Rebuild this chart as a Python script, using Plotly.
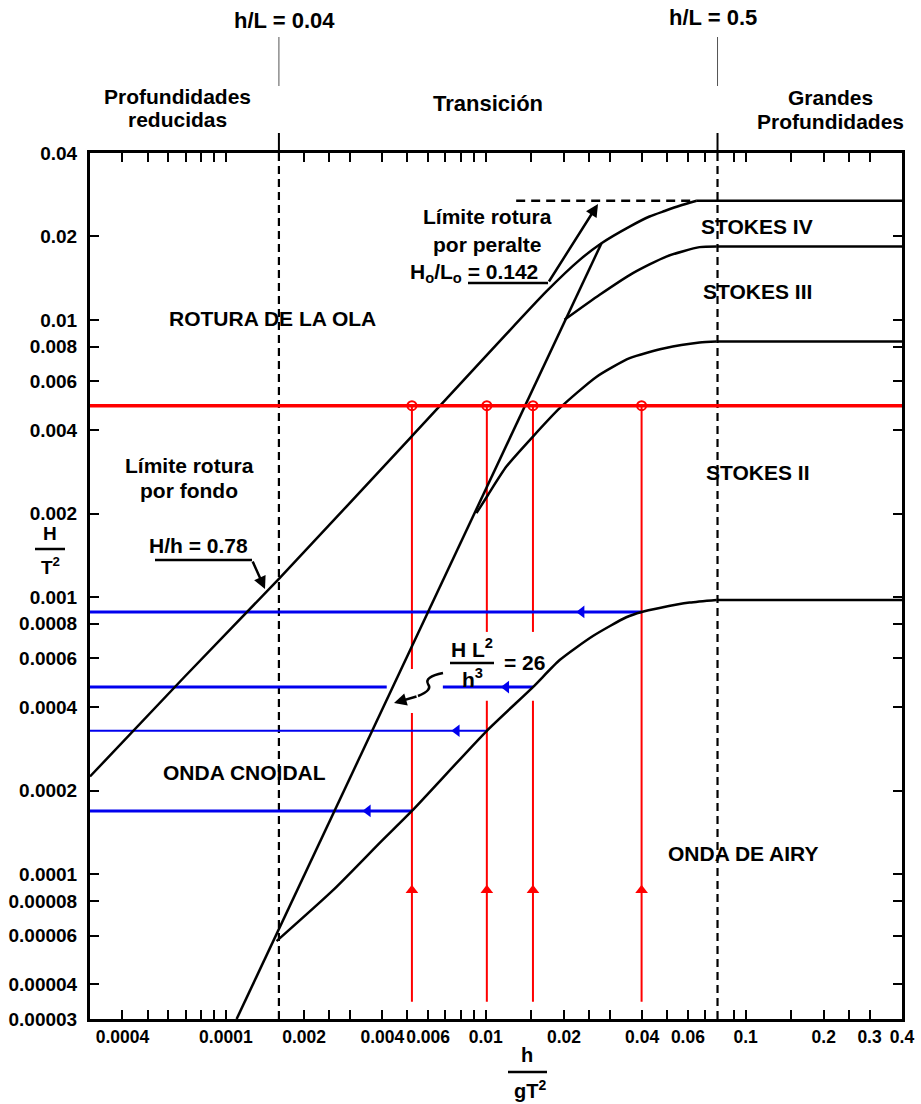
import math
import plotly.graph_objects as go

# ---------------- data ----------------
# Ursell limit  H L^2 / h^3 = 26
x_ursell = [0.0011, 0.0279]
y_ursell = [0.00003, 0.0189]

# breaking limit (H/h = 0.78 -> steepness limit), curved part then flat part
x_break = [0.0003, 0.000685, 0.00161, 0.00518, 0.01712, 0.0230, 0.0279, 0.0358,
           0.0427, 0.0488, 0.0558, 0.0648]
y_break = [0.000225, 0.000509, 0.00117, 0.00379, 0.01266, 0.01646, 0.0189, 0.0217,
           0.0236, 0.0247, 0.0258, 0.0269]
x_break_flat = [0.0648, 0.4]
y_break_flat = [0.0269, 0.0269]

# dashed steepness limit Ho/Lo = 0.142
x_peralte = [0.0131, 0.0648]
y_peralte = [0.0269, 0.0269]

# Stokes III / IV boundary
x_stokes34 = [0.0201, 0.02745, 0.03685, 0.04955, 0.06653, 0.0774]
y_stokes34 = [0.0100, 0.01231, 0.01474, 0.01692, 0.0183, 0.0184]
x_stokes34_flat = [0.0774, 0.4]
y_stokes34_flat = [0.0184, 0.0184]

# Stokes II / III boundary
x_stokes23 = [0.00921, 0.0102, 0.01201, 0.0152, 0.01926, 0.02665, 0.0358,
              0.0488, 0.06653, 0.0774]
y_stokes23 = [0.002006, 0.002334, 0.002954, 0.003791, 0.004799, 0.006223,
              0.007274, 0.007902, 0.008279, 0.00835]
x_stokes23_flat = [0.0774, 0.4]
y_stokes23_flat = [0.00835, 0.00835]

# Airy / Stokes II boundary
x_airy = [0.001567, 0.002586, 0.003971, 0.0052, 0.0101, 0.0152, 0.01926,
          0.02586, 0.03476, 0.0398, 0.04668, 0.06089, 0.0774]
y_airy = [0.0000573, 0.0000875, 0.0001315, 0.000169, 0.000329, 0.000473,
          0.000592, 0.000723, 0.000845, 0.000883, 0.000913, 0.000955, 0.000976]
x_airy_flat = [0.0774, 0.4]
y_airy_flat = [0.000976, 0.000976]

# depth limits h/L
hl_x = [0.0016, 0.078]
hl_labels = ["h/L = 0.04", "h/L = 0.5"]

# red example: H/T^2 level and h/gT^2 values
red_level = 0.0049
red_x = [0.0052, 0.0101, 0.0152, 0.0398]
red_bottom = 0.0000346
red_arrow_y = 0.0000875
red_gaps = [(0.000381, 0.00055), (0.000422, 0.000748), (0.000422, 0.000748), None]

# blue read-off levels
blue_y = [0.000169, 0.000329, 0.000473, 0.000883]
blue_end_x = [0.0052, 0.0101, 0.0152, 0.0398]
blue_arrow_x = [0.00352, 0.00774, 0.0120, 0.0234]
blue_gaps = [None, None, (0.00416, 0.00684), None]
blue_widths = [3, 2, 3, 3]

# axes
x_min, x_max = 0.0003, 0.4
y_min, y_max = 0.00003, 0.04
x_tickvals = [0.0004, 0.0005, 0.0006, 0.0007, 0.0008, 0.0009, 0.001, 0.002, 0.0025,
              0.003, 0.004, 0.005, 0.006, 0.007, 0.008, 0.009, 0.01, 0.015, 0.02,
              0.025, 0.03, 0.04, 0.05, 0.06, 0.07, 0.09, 0.1, 0.15, 0.2, 0.25, 0.3, 0.4]
x_labels = {0.0004: "0.0004", 0.001: "0.0001", 0.002: "0.002", 0.004: "0.004",
            0.006: "0.006", 0.01: "0.01", 0.02: "0.02", 0.04: "0.04", 0.06: "0.06",
            0.1: "0.1", 0.2: "0.2", 0.3: "0.3", 0.4: "0.4"}
y_tickvals = [0.00003, 0.00004, 0.00006, 0.00008, 0.0001, 0.0002, 0.0004, 0.0006,
              0.0008, 0.001, 0.002, 0.004, 0.006, 0.008, 0.01, 0.02, 0.04]
y_ticktext = ["0.00003", "0.00004", "0.00006", "0.00008", "0.0001", "0.0002", "0.0004",
              "0.0006", "0.0008", "0.001", "0.002", "0.004", "0.006", "0.008", "0.01",
              "0.02", "0.04"]

# ---------------- figure ----------------
W, H = 921, 1104
PL, PR, PT, PB = 90, 902, 153, 1019      # plot area in page pixels
ML, MR, MT, MB = PL, W - PR, PT, H - PB
PW, PH = PR - PL, PB - PT
FONT = "Liberation Sans, Arial, sans-serif"


def px(xp):
    return (xp - PL) / PW


def py(yp):
    return (PB - yp) / PH


fig = go.Figure()


def add_line(xs, ys, color="black", width=2.5, dash=None, spline=False):
    line = dict(color=color, width=width, dash=dash)
    if spline:
        line.update(shape="spline", smoothing=0.6)
    fig.add_trace(go.Scatter(x=xs, y=ys, mode="lines", line=line,
                             hoverinfo="skip", showlegend=False))


# vertical h/L limits
for xv in hl_x:
    add_line([xv, xv], [y_min, y_max], width=2.2, dash="8px,5px")

# red example lines
rx, ry = [], []
for xv, gap in zip(red_x, red_gaps):
    if gap:
        rx += [xv, xv, None, xv, xv, None]
        ry += [red_bottom, gap[0], None, gap[1], red_level, None]
    else:
        rx += [xv, xv, None]
        ry += [red_bottom, red_level, None]
add_line(rx, ry, color="#ff0000", width=2)

# blue read-off lines
for yv, xe, gap, w in zip(blue_y, blue_end_x, blue_gaps, blue_widths):
    if gap:
        add_line([x_min, gap[0], None, gap[1], xe], [yv, yv, None, yv, yv], color="#0000ee", width=w)
    else:
        add_line([x_min, xe], [yv, yv], color="#0000ee", width=w)

# regime curves
add_line(x_ursell, y_ursell)
add_line(x_break, y_break, spline=True)
add_line(x_break_flat, y_break_flat)
add_line(x_peralte, y_peralte, dash="9px,6px")
add_line(x_stokes34, y_stokes34, spline=True)
add_line(x_stokes34_flat, y_stokes34_flat)
add_line(x_stokes23, y_stokes23, spline=True)
add_line(x_stokes23_flat, y_stokes23_flat)
add_line(x_airy, y_airy, spline=True)
add_line(x_airy_flat, y_airy_flat)

# red horizontal level
add_line([x_min, x_max], [red_level, red_level], color="#ff0000", width=3.5)

# arrow heads and circles
fig.add_trace(go.Scatter(x=blue_arrow_x, y=blue_y, mode="markers",
                         marker=dict(symbol="triangle-left", size=11, color="#0000ee"),
                         hoverinfo="skip", showlegend=False))
fig.add_trace(go.Scatter(x=red_x, y=[red_arrow_y] * len(red_x), mode="markers",
                         marker=dict(symbol="triangle-up", size=11, color="#ff0000"),
                         hoverinfo="skip", showlegend=False))
fig.add_trace(go.Scatter(x=red_x, y=[red_level] * len(red_x), mode="markers",
                         marker=dict(symbol="circle-open", size=9, color="#ff0000",
                                     line=dict(width=2, color="#ff0000")),
                         hoverinfo="skip", showlegend=False))

annotations = []


def text(t, xp, yp, size=21):
    annotations.append(dict(text=t, x=px(xp), y=py(yp), xref="paper", yref="paper",
                            showarrow=False, xanchor="center", yanchor="middle",
                            font=dict(family=FONT, size=size, color="black", weight="bold")))


# header
text(hl_labels[0], 284, 20, 22)
text(hl_labels[1], 713, 18, 22)
text("Profundidades", 177, 96, 21)
text("reducidas", 177, 120, 21)
text("Transición", 488, 103, 22)
text("Grandes", 830, 97, 21)
text("Profundidades", 830, 121, 21)

# regions
text("ROTURA DE LA OLA", 272, 318)
text("Límite rotura", 487, 217)
text("por peralte", 487, 245)
text("H<sub>o</sub>/L<sub>o</sub> = 0.142", 474, 273)
text("STOKES IV", 757, 226)
text("STOKES III", 757, 291)
text("STOKES II", 757, 472)
text("Límite rotura", 189, 465)
text("por fondo", 189, 490)
text("H/h = 0.78", 198, 545)
text("ONDA CNOIDAL", 244, 772)
text("ONDA DE AIRY", 743, 853)
text("H L<sup>2</sup>", 472, 648)
text("h<sup>3</sup>", 472, 678)
text("= 26", 524, 662)

# axis titles
text("H", 50, 533, 19)
text("T<sup>2</sup>", 50, 566, 19)
text("h", 527, 1055, 20)
text("gT<sup>2</sup>", 530, 1089, 20)


def arrow(tip, tail):
    annotations.append(dict(x=px(tip[0]), y=py(tip[1]), xref="paper", yref="paper",
                            ax=tail[0] - tip[0], ay=tail[1] - tip[1], text="",
                            showarrow=True, arrowhead=2, arrowsize=1, arrowwidth=2.5,
                            arrowcolor="black"))


arrow((265, 589), (252, 560))
arrow((598, 204), (548, 283))
arrow((394, 703), (418, 696))

shapes = []


def seg(x0, y0, x1, y1, width=2.5, color="black"):
    shapes.append(dict(type="line", xref="paper", yref="paper",
                       x0=px(x0), y0=py(y0), x1=px(x1), y1=py(y1),
                       line=dict(color=color, width=width)))


seg(155, 560, 252, 560)
seg(468, 283, 548, 283)
seg(450, 663, 494, 663, width=2.5)
seg(35, 549, 65, 549, width=2.5)
seg(508, 1072, 547, 1072, width=2.5)

# squiggle of the Ursell label arrow
pts = [(443, 673), (424, 677), (428, 684), (433, 690), (418, 696)]
path = "M {:.5f},{:.5f} Q {:.5f},{:.5f} {:.5f},{:.5f} Q {:.5f},{:.5f} {:.5f},{:.5f}".format(
    px(pts[0][0]), py(pts[0][1]), px(pts[1][0]), py(pts[1][1]), px(pts[2][0]), py(pts[2][1]),
    px(pts[3][0]), py(pts[3][1]), px(pts[4][0]), py(pts[4][1]))
shapes.append(dict(type="path", xref="paper", yref="paper", path=path,
                   line=dict(color="black", width=2.5)))

# h/L limit extensions above the plot
for xv in hl_x:
    shapes.append(dict(type="line", xref="x", yref="paper", x0=xv, x1=xv,
                       y0=py(86), y1=py(37), line=dict(color="#555555", width=1)))
    shapes.append(dict(type="line", xref="x", yref="paper", x0=xv, x1=xv,
                       y0=py(152), y1=py(133), line=dict(color="black", width=2)))

axis_common = dict(type="log", ticks="inside", ticklen=9, tickwidth=2, tickcolor="black",
                   showline=True, linewidth=3, linecolor="black", mirror="ticks",
                   showgrid=False, zeroline=False, automargin=False)

fig.update_layout(
    width=W, height=H,
    margin=dict(l=ML, r=MR, t=MT, b=MB, pad=0, autoexpand=False),
    paper_bgcolor="white", plot_bgcolor="white",
    showlegend=False,
    xaxis=dict(range=[math.log10(x_min), math.log10(x_max)],
               tickvals=x_tickvals,
               ticktext=[x_labels.get(v, "") for v in x_tickvals],
               tickangle=0, ticklabelstandoff=0,
               tickfont=dict(family=FONT, size=17.5, color="black", weight="bold"),
               **axis_common),
    yaxis=dict(range=[math.log10(y_min), math.log10(y_max)],
               tickvals=y_tickvals, ticktext=y_ticktext,
               ticklabelstandoff=6,
               tickfont=dict(family=FONT, size=19, color="black", weight="bold"),
               **axis_common),
    annotations=annotations,
    shapes=shapes,
)

fig.write_html(
    "out.html",
    config={"displayModeBar": False},
    post_script=("document.body.style.margin='0px';"
                 "document.documentElement.style.overflow='hidden';"
                 "document.body.style.overflow='hidden';"),
)
